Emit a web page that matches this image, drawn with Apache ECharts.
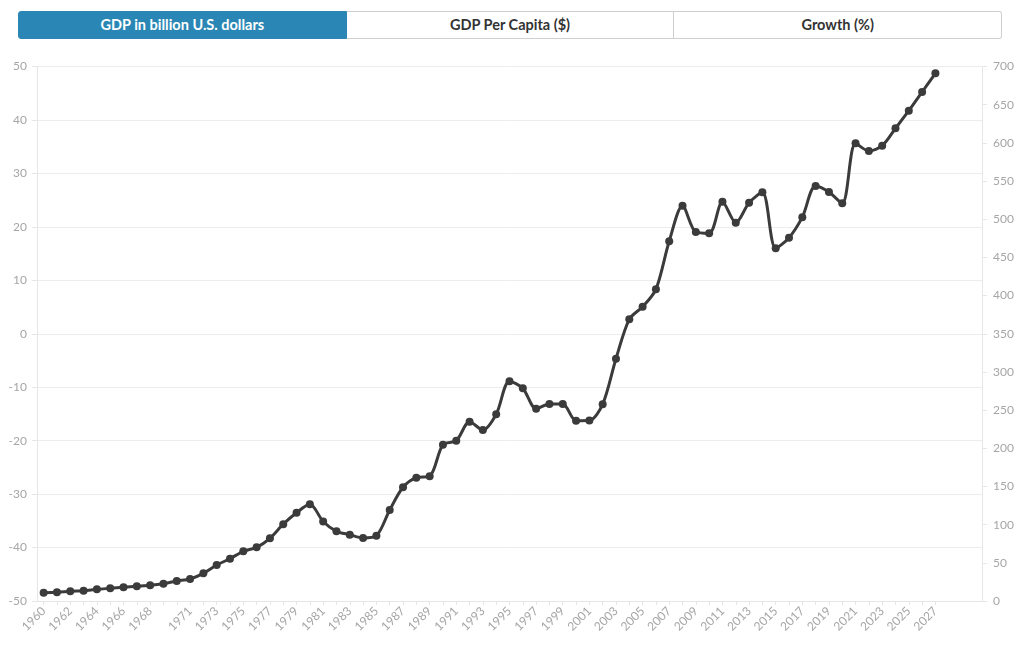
<!DOCTYPE html>
<html>
<head>
<meta charset="utf-8">
<script src="https://cdn.jsdelivr.net/npm/echarts@6/dist/echarts.min.js"></script>
<style>
  html, body { margin: 0; padding: 0; background: #fff; }
  #wrap { position: relative; width: 1020px; height: 650px; }
  #chart { position: absolute; left: 0; top: 0; width: 1020px; height: 650px; }
  #tabs { position: absolute; left: 18px; top: 11px; width: 984px; height: 28px; display: flex; z-index: 2;
          font-family: Lato, "Noto Sans", sans-serif; font-weight: bold; font-size: 14.5px; }
  .tab { flex: 1; box-sizing: border-box; height: 28px; line-height: 26px; text-align: center;
         border: 1px solid #cfcfcf; color: #333; background: #fff; }
  .tab + .tab { border-left: none; }
  .tab.active { background: #2a87b5; color: #fff; border-color: #2a87b5; border-radius: 3px 0 0 3px; }
  .tab:last-child { border-radius: 0 3px 3px 0; }
</style>
</head>
<body>
<div id="wrap">
  <div id="chart"></div>
  <div id="tabs">
    <div class="tab active">GDP in billion U.S. dollars</div>
    <div class="tab">GDP Per Capita ($)</div>
    <div class="tab">Growth (%)</div>
  </div>
</div>
<script>
// Years shown on the x axis (data years 1960-2027, plus empty slots to the right)
const years = [
  1960,1961,1962,1963,1964,1965,1966,1967,1968,1969,
  1970,1971,1972,1973,1974,1975,1976,1977,1978,1979,
  1980,1981,1982,1983,1984,1985,1986,1987,1988,1989,
  1990,1991,1992,1993,1994,1995,1996,1997,1998,1999,
  2000,2001,2002,2003,2004,2005,2006,2007,2008,2009,
  2010,2011,2012,2013,2014,2015,2016,2017,2018,2019,
  2020,2021,2022,2023,2024,2025,2026,2027
];
const emptySlots = ['', '', ''];

// GDP in billion U.S. dollars
const gdpBillion = [
  10.9, 11.4, 12.7, 13.5, 15.3, 16.6, 17.9, 19.2, 20.5, 22.7,
  26.2, 28.8, 36.2, 47.1, 55.4, 65.1, 70.3, 82.1, 100.6, 115.6,
  126.6, 104.2, 91.3, 86.8, 82.5, 85.5, 119.2, 148.9, 161.5, 163.3,
  204.7, 209.9, 234.8, 223.9, 244.5, 287.7, 278.5, 251.8, 258.0, 258.0,
  236.1, 236.3, 257.8, 317.3, 368.9, 385.4, 408.2, 471.1, 517.7, 483.2,
  481.5, 522.9, 495.4, 521.6, 535.2, 461.9, 475.8, 502.7, 543.5, 535.6,
  520.8, 599.4, 589.3, 596.3, 619.0, 642.1, 666.6, 691.1
];

// Axis ranges
const leftAxis = { min: -50, max: 50, interval: 10 };   // Growth (%)
const rightAxis = { min: 0, max: 700, interval: 50 };   // GDP, billion US$

const categories = years.map(String).concat(emptySlots);
const nData = years.length;

const chart = echarts.init(document.getElementById('chart'), null, { renderer: 'canvas' });
const font = 'Lato, "Noto Sans", sans-serif';
const labelColor = '#a6a6a6';
const lineLight = '#e6e6e6';

function showYearLabel(idx) {
  if (idx >= nData) return false;
  const y = years[idx];
  return y < 1970 ? y % 2 === 0 : (y > 1970 && y % 2 === 1);
}

chart.setOption({
  animation: false,
  textStyle: { fontFamily: font },
  grid: { left: 37, right: 38, top: 66.5, bottom: 49, containLabel: false },
  xAxis: {
    type: 'category',
    data: categories,
    boundaryGap: true,
    axisLine: { show: true, onZero: false, lineStyle: { color: lineLight } },
    axisTick: { show: true, alignWithLabel: true, length: 4, lineStyle: { color: lineLight },
                interval: (idx) => idx < nData },
    axisLabel: { rotate: 45, color: labelColor, fontSize: 12, fontFamily: font, margin: 8,
                 interval: (idx) => showYearLabel(idx) },
    splitLine: { show: false }
  },
  yAxis: [
    {
      type: 'value', position: 'left',
      min: leftAxis.min, max: leftAxis.max, interval: leftAxis.interval,
      axisLine: { show: true, lineStyle: { color: lineLight } },
      axisTick: { show: true, length: 5, lineStyle: { color: lineLight } },
      axisLabel: { color: labelColor, fontSize: 12, fontFamily: font, margin: 10 },
      splitLine: { show: true, lineStyle: { color: '#ececec' } }
    },
    {
      type: 'value', position: 'right',
      min: rightAxis.min, max: rightAxis.max, interval: rightAxis.interval,
      axisLine: { show: true, lineStyle: { color: lineLight } },
      axisTick: { show: true, length: 5, lineStyle: { color: lineLight } },
      axisLabel: { color: labelColor, fontSize: 12, fontFamily: font, margin: 11 },
      splitLine: { show: false }
    }
  ],
  series: [{
    name: 'GDP in billion U.S. dollars',
    type: 'line',
    yAxisIndex: 1,
    data: gdpBillion,
    smooth: 0.3,
    symbol: 'circle',
    symbolSize: 8,
    lineStyle: { color: '#3b3b3b', width: 3 },
    itemStyle: { color: '#3b3b3b' }
  }]
});
</script>
</body>
</html>
